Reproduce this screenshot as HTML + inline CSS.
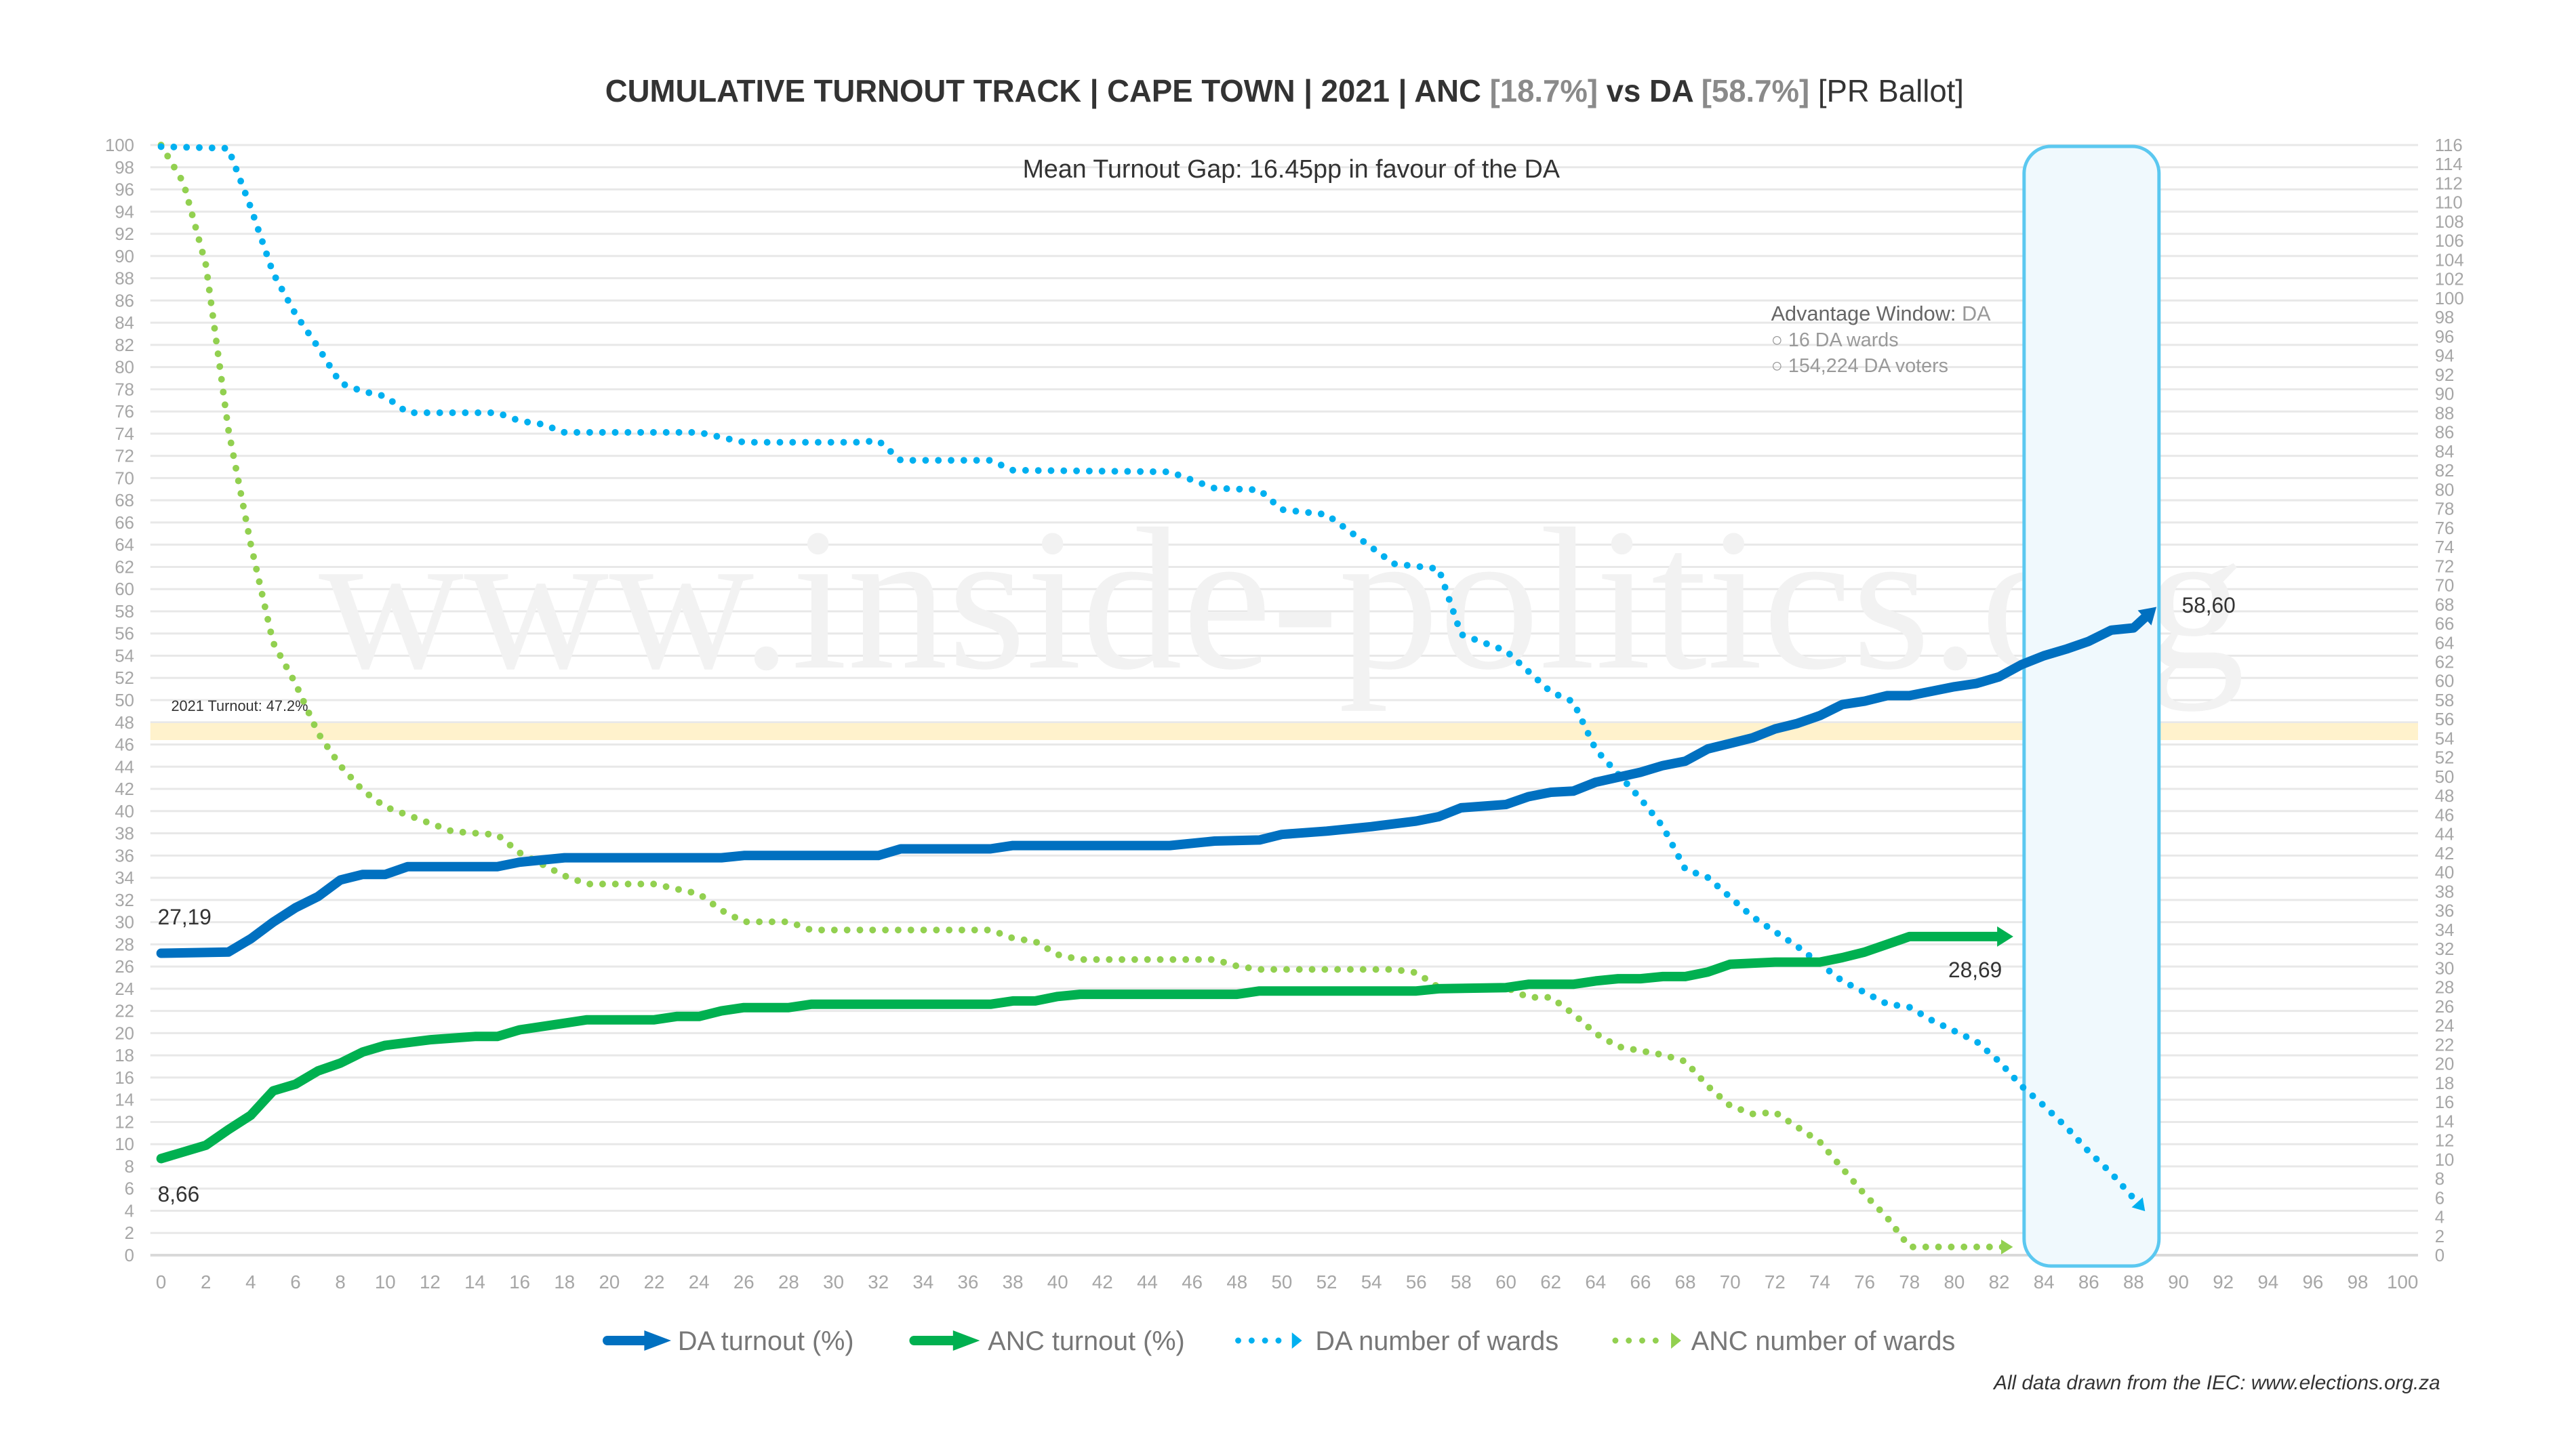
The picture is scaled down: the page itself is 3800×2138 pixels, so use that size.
<!DOCTYPE html>
<html><head><meta charset="utf-8"><style>
html,body{margin:0;padding:0;background:#fff;}
svg{display:block;}
text{font-family:"Liberation Sans",sans-serif;}
</style></head><body>
<svg id="s" width="3800" height="2138" viewBox="0 0 3800 2138" xmlns="http://www.w3.org/2000/svg">
<rect width="3800" height="2138" fill="#fff"/>
<g transform="scale(0.99 1)">
<g id="grid"></g>
<rect x="224" y="1067" width="3379" height="25" fill="#FFF2CC"/>
<text x="255" y="1049" font-size="22" fill="#333">2021 Turnout: 47.2%</text>
<text x="1910" y="985" font-size="300" fill="#f2f2f2" text-anchor="middle" textLength="2870" lengthAdjust="spacingAndGlyphs" style="font-family:'Liberation Serif',serif">www.inside-politics.org</text>
<rect x="3016" y="216" width="201" height="1652" rx="40" fill="#F0F9FD" stroke="#5BC8F0" stroke-width="5"/>
<g id="labels"></g>
<g id="series"></g>
<text x="1914" y="150" font-size="46" font-weight="bold" fill="#333" text-anchor="middle">CUMULATIVE TURNOUT TRACK | CAPE TOWN | 2021 | ANC <tspan fill="#8a8a8a">[18.7%]</tspan> vs DA <tspan fill="#8a8a8a">[58.7%]</tspan> <tspan font-weight="normal">[PR Ballot]</tspan></text>
<text x="1924" y="262" font-size="38" fill="#333" text-anchor="middle">Mean Turnout Gap: 16.45pp in favour of the DA</text>
<text x="2639" y="473" font-size="31" fill="#666">Advantage Window: <tspan fill="#999">DA</tspan></text>
<text x="2639" y="511" font-size="29" fill="#999">○    16 DA wards</text>
<text x="2639" y="549" font-size="29" fill="#999">○    154,224 DA voters</text>
<text x="235" y="1364" font-size="32" fill="#333">27,19</text>
<text x="235" y="1773" font-size="32" fill="#333">8,66</text>
<text x="2903" y="1442" font-size="32" fill="#333">28,69</text>
<text x="3251" y="904" font-size="32" fill="#333">58,60</text>
<g id="legend">
<line x1="905" y1="1978" x2="960" y2="1978" stroke="#0070C0" stroke-width="14" stroke-linecap="round"/><polygon points="960,1963 1000,1978 960,1993" fill="#0070C0"/>
<text x="1010" y="1992" font-size="40" fill="#777">DA turnout (%)</text>
<line x1="1362" y1="1978" x2="1420" y2="1978" stroke="#00B050" stroke-width="14" stroke-linecap="round"/><polygon points="1420,1963 1460,1978 1420,1993" fill="#00B050"/>
<text x="1472" y="1992" font-size="40" fill="#777">ANC turnout (%)</text>
<line x1="1845" y1="1978" x2="1920" y2="1978" stroke="#00B0F0" stroke-width="9" stroke-linecap="round" stroke-dasharray="0 20"/><polygon points="1925,1966 1940,1978 1925,1990" fill="#00B0F0"/>
<text x="1960" y="1992" font-size="40" fill="#777">DA number of wards</text>
<line x1="2407" y1="1978" x2="2485" y2="1978" stroke="#92D050" stroke-width="9" stroke-linecap="round" stroke-dasharray="0 20"/><polygon points="2490,1966 2505,1978 2490,1990" fill="#92D050"/>
<text x="2520" y="1992" font-size="40" fill="#777">ANC number of wards</text>
</g>
<text x="3636" y="2050" font-size="30" fill="#333" font-style="italic" text-anchor="end">All data drawn from the IEC: www.elections.org.za</text>
</g>
</svg>
<script>
var NS="http://www.w3.org/2000/svg";
function el(p,t,a,txt){var e=document.createElementNS(NS,t);for(var k in a)e.setAttribute(k,a[k]);if(txt!==undefined)e.textContent=txt;document.getElementById(p).appendChild(e);return e;}
var X0=240,XS=33.4,Y0=1852,YS=16.38;
function X(v){return X0+v*XS;} function Y(v){return Y0-v*YS;}
for(var v=0;v<=100;v+=2){el("grid","line",{x1:224,x2:3603,y1:Y(v),y2:Y(v),stroke:v==0?"#d9d9d9":"#e8e8e8","stroke-width":v==0?4:3});
 el("labels","text",{x:200,y:Y(v)+9,"font-size":26,fill:"#a6a6a6","text-anchor":"end"},String(v));}
for(var r=0;r<=116;r+=2){var yy=Y0-(r/116)*100*YS;el("labels","text",{x:3628,y:yy+9,"font-size":26,fill:"#a6a6a6"},String(r));}
for(var x=0;x<=100;x+=2){el("labels","text",{x:X(x),y:1901,"font-size":28,fill:"#a6a6a6","text-anchor":"middle"},String(x));}
function ov(y){return 100-(y-87)/6.76;}
var da=[[0,27.2],[3,27.3],[4,28.5],[5,30],[6,31.3],[7,32.3],[8,33.8],[9,34.3],[10,34.3],[11,35],[12,35],[15,35],[16,35.4],[18,35.8],[25,35.8],[26,36],[32,36],[33,36.6],[37,36.6],[38,36.9],[45,36.9],[47,37.3],[49,37.4],[50,37.9],[52,38.2],[54,38.6],[56,39.1],[57,39.5],[58,40.3],[60,40.6],[61,41.3],[62,41.7],[63,41.8],[64,42.6],[66,43.5],[67,44.1],[68,44.5],[69,45.6],[70,46.1],[71,46.6],[72,47.4],[73,47.9],[74,48.6],[75,49.6],[76,49.9],[77,50.4],[78,50.4],[79,50.8],[80,51.2],[81,51.5],[82,52.1],[83,53.2],[84,54],[85,54.6],[86,55.3],[87,56.3],[88,56.5],[88.7,57.8]];
var anc=[[0,8.7],[2,9.9],[3,11.3],[4,12.6],[5,14.8],[6,15.4],[7,16.6],[8,17.3],[9,18.3],[10,18.9],[12,19.4],[14,19.7],[15,19.7],[16,20.3],[18,20.9],[19,21.2],[22,21.2],[23,21.5],[24,21.5],[25,22],[26,22.3],[28,22.3],[29,22.6],[37,22.6],[38,22.9],[39,22.9],[40,23.3],[41,23.5],[48,23.5],[49,23.8],[56,23.8],[57,24],[60,24.1],[61,24.4],[63,24.4],[64,24.7],[65,24.9],[66,24.9],[67,25.1],[68,25.1],[69,25.5],[70,26.2],[72,26.4],[74,26.4],[75,26.8],[76,27.3],[77,28],[78,28.7],[82.2,28.7]];
var daw=[[0,88],[3,89],[4,125],[5,165],[6,190],[7,210],[8,232],[9,237],[10,240],[11,250],[15,250],[16,255],[17,257],[18,262],[24,262],[25,265],[26,268],[31,268],[32,267],[33,279],[37,279],[38,285],[45,286],[47,296],[49,297],[50,309],[52,312],[53,322],[55,342],[57,345],[58,385],[59,390],[60,395],[62,420],[63,426],[64,455],[65,470],[66,485],[67,502],[68,528],[69,533],[71,557],[73,575],[75,596],[77,610],[78,612],[79,620],[81,633],[82,645],[83,660],[84,672],[85,685],[86,700],[87,713],[88.3,733]];
var ancw=[[0,87],[1,110],[2,160],[3,260],[4,330],[5,390],[6,415],[7,445],[8,465],[9,480],[10,490],[11,495],[13,505],[15,507],[16,518],[17,525],[18,532],[19,537],[22,537],[23,540],[24,543],[25,553],[26,560],[28,560],[29,565],[37,565],[38,570],[39,572],[40,580],[41,583],[47,583],[48,587],[49,589],[55,589],[56,591],[57,600],[60,600],[61,606],[62,606],[63,616],[64,628],[65,636],[67,641],[68,645],[69,660],[70,672],[71,677],[72,676],[73,685],[74,694],[75,710],[76,726],[77,740],[78,758],[82.3,758]];
daw=daw.map(function(p){return [p[0],ov(p[1])];});ancw=ancw.map(function(p){return [p[0],ov(p[1])];});
function path(d){return d.map(function(p,i){return (i?"L":"M")+X(p[0]).toFixed(1)+","+Y(p[1]).toFixed(1);}).join(" ");}
function arrow(d,col,sz){var a=d[d.length-2],b=d[d.length-1];var x1=X(a[0]),y1=Y(a[1]),x2=X(b[0]),y2=Y(b[1]);var ang=Math.atan2(y2-y1,x2-x1);var L=sz*1.6,W=sz;
 var tx=x2+Math.cos(ang)*L*0.6,ty=y2+Math.sin(ang)*L*0.6;var bx=tx-Math.cos(ang)*L,by=ty-Math.sin(ang)*L;
 var px=-Math.sin(ang)*W,py=Math.cos(ang)*W;el("series","polygon",{points:tx+","+ty+" "+(bx+px)+","+(by+py)+" "+(bx-px)+","+(by-py),fill:col});}
function line(d,col,w,dash){var a={d:path(d),fill:"none",stroke:col,"stroke-width":w,"stroke-linecap":"round","stroke-linejoin":"round"};if(dash)a["stroke-dasharray"]=dash;el("series","path",a);}
line(ancw,"#92D050",10,"0 19");arrow(ancw,"#92D050",11);
line(daw,"#00B0F0",10,"0 19");arrow(daw,"#00B0F0",11);
line(anc,"#00B050",14);arrow(anc,"#00B050",15);
line(da,"#0070C0",14);arrow(da,"#0070C0",15);
</script>
</body></html>
